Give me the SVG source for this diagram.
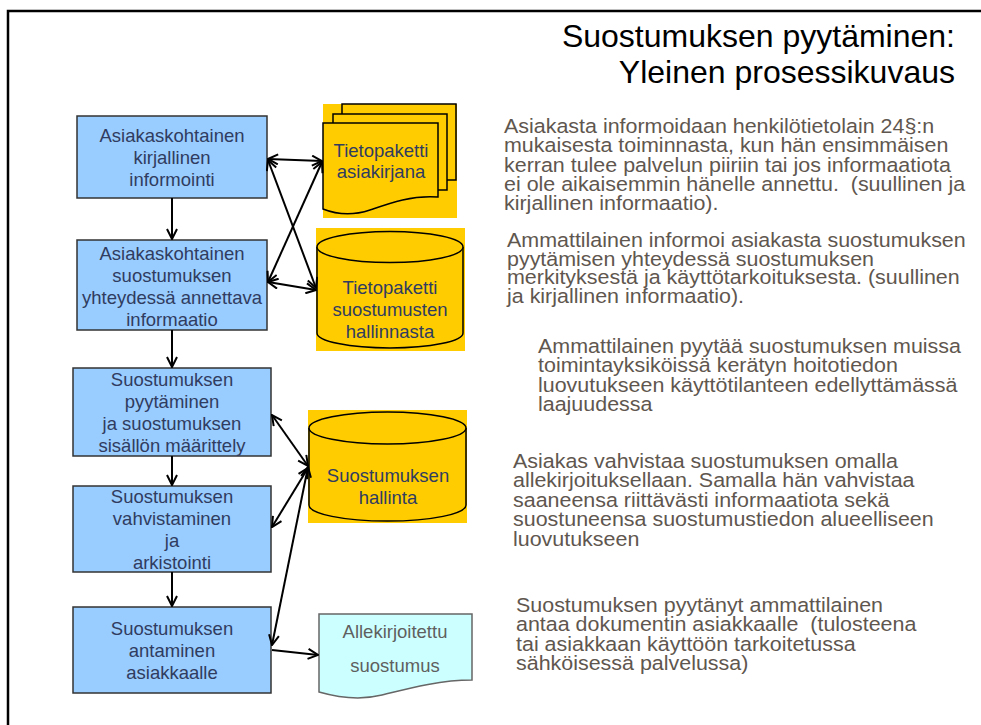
<svg xmlns="http://www.w3.org/2000/svg" width="981" height="725" viewBox="0 0 981 725">
<style>
.box{fill:#99CCFF;stroke:#333333;stroke-width:1.5}
.yel{fill:#FFCC00}
.shp{fill:#FFCC00;stroke:#000;stroke-width:1.5}
.bt{font-family:"Liberation Sans",Arial,sans-serif;font-size:18.5px;fill:#303C60;text-anchor:middle}
.gt{font-family:"Liberation Sans",Arial,sans-serif;font-size:18.5px;fill:#5F5F5F;text-anchor:middle}
.pt{font-family:"Liberation Sans",Arial,sans-serif;font-size:19.5px;fill:#5F574F;white-space:pre}
.tt{font-family:"Liberation Sans",Arial,sans-serif;font-size:32px;fill:#000;text-anchor:end}
.cn{fill:none;stroke:#000;stroke-width:2}
</style>
<defs>
<marker id="ah" viewBox="0 0 12 12" refX="11" refY="6" markerWidth="12" markerHeight="12" orient="auto-start-reverse" markerUnits="userSpaceOnUse">
<path d="M1,1 L11,6 L1,11" fill="none" stroke="#000" stroke-width="2"/>
</marker>
</defs>
<rect width="981" height="725" fill="#fff"/>
<path d="M8,725 V11 H981" fill="none" stroke="#000" stroke-width="2.5"/>
<g id="title">
<text class="tt" x="955" y="47">Suostumuksen pyytäminen:</text>
<text class="tt" x="955" y="83">Yleinen prosessikuvaus</text>
</g>
<g id="box1">
<rect class="box" x="77" y="116" width="190" height="82"/>
<text class="bt" x="172" y="142">Asiakaskohtainen</text>
<text class="bt" x="172" y="164">kirjallinen</text>
<text class="bt" x="172" y="186">informointi</text>
</g>
<g id="box2">
<rect class="box" x="77" y="240" width="190" height="90"/>
<text class="bt" x="172" y="260">Asiakaskohtainen</text>
<text class="bt" x="172" y="282">suostumuksen</text>
<text class="bt" x="172" y="304">yhteydessä annettava</text>
<text class="bt" x="172" y="326">informaatio</text>
</g>
<g id="box3">
<rect class="box" x="73" y="368" width="198" height="88"/>
<text class="bt" x="172" y="386">Suostumuksen</text>
<text class="bt" x="172" y="408">pyytäminen</text>
<text class="bt" x="172" y="430">ja suostumuksen</text>
<text class="bt" x="172" y="452">sisällön määrittely</text>
</g>
<g id="box4">
<rect class="box" x="73" y="486" width="198" height="86"/>
<text class="bt" x="172" y="503">Suostumuksen</text>
<text class="bt" x="172" y="525">vahvistaminen</text>
<text class="bt" x="172" y="547">ja</text>
<text class="bt" x="172" y="569">arkistointi</text>
</g>
<g id="box5">
<rect class="box" x="73" y="607" width="198" height="86"/>
<text class="bt" x="172" y="635">Suostumuksen</text>
<text class="bt" x="172" y="657">antaminen</text>
<text class="bt" x="172" y="679">asiakkaalle</text>
</g>
<g id="doc-asiakirjana">
<rect class="yel" x="323" y="104" width="134" height="114"/>
<path class="shp" d="M342,114 V104 H456 V180 H447"/>
<path class="shp" d="M333,123 V114 H447 V190 H438"/>
<path class="shp" d="M323,123 H438 V197 C412,195 390,203 370,210 C352,216 338,215 323,209 Z"/>
<text class="bt" x="381" y="157">Tietopaketti</text>
<text class="bt" x="381" y="178">asiakirjana</text>
</g>
<g id="cyl-hallinnasta">
<rect class="yel" x="316" y="228" width="149" height="123"/>
<path class="shp" d="M317,247 V333 A73,15 0 0 0 463,333 V247"/>
<ellipse class="shp" cx="390" cy="247" rx="73" ry="15.5"/>
<text class="bt" x="390" y="294">Tietopaketti</text>
<text class="bt" x="390" y="316">suostumusten</text>
<text class="bt" x="390" y="338">hallinnasta</text>
</g>
<g id="cyl-hallinta">
<rect class="yel" x="308" y="410" width="159" height="113"/>
<path class="shp" d="M309,428 V505 A78,16 0 0 0 466,505 V428"/>
<ellipse class="shp" cx="387.5" cy="428" rx="78.5" ry="16"/>
<text class="bt" x="388" y="482">Suostumuksen</text>
<text class="bt" x="388" y="504">hallinta</text>
</g>
<g id="doc-allekirjoitettu">
<path d="M319,614 H472 V680 C440,680 410,688 382,695 C362,700 340,698 319,692 Z" fill="#CCFFFF" stroke="#666666" stroke-width="1.5"/>
<text class="gt" x="395" y="638">Allekirjoitettu</text>
<text class="gt" x="395" y="672">suostumus</text>
</g>
<g id="connectors">
<line class="cn" x1="172" y1="198" x2="172" y2="239" marker-end="url(#ah)"/>
<line class="cn" x1="172" y1="330" x2="172" y2="367" marker-end="url(#ah)"/>
<line class="cn" x1="172" y1="456" x2="172" y2="485" marker-end="url(#ah)"/>
<line class="cn" x1="172" y1="572" x2="172" y2="606" marker-end="url(#ah)"/>
<line class="cn" x1="268" y1="159" x2="322" y2="161" marker-start="url(#ah)" marker-end="url(#ah)"/>
<line class="cn" x1="268" y1="160" x2="316" y2="288" marker-start="url(#ah)" marker-end="url(#ah)"/>
<line class="cn" x1="268" y1="282" x2="322" y2="162" marker-start="url(#ah)" marker-end="url(#ah)"/>
<line class="cn" x1="268" y1="282" x2="316" y2="290" marker-start="url(#ah)" marker-end="url(#ah)"/>
<line class="cn" x1="272" y1="415" x2="308" y2="466" marker-start="url(#ah)" marker-end="url(#ah)"/>
<line class="cn" x1="272" y1="527" x2="308" y2="468" marker-start="url(#ah)" marker-end="url(#ah)"/>
<line class="cn" x1="272" y1="645" x2="308" y2="467" marker-start="url(#ah)" marker-end="url(#ah)"/>
<line class="cn" x1="272" y1="650" x2="318" y2="655" marker-end="url(#ah)"/>
</g>
<g id="desc1" transform="translate(504,0) scale(1.1,1)">
<text class="pt" x="0" y="133">Asiakasta informoidaan henkilötietolain 24§:n</text>
<text class="pt" x="0" y="152.5">mukaisesta toiminnasta, kun hän ensimmäisen</text>
<text class="pt" x="0" y="172">kerran tulee palvelun piiriin tai jos informaatiota</text>
<text class="pt" x="0" y="191" xml:space="preserve">ei ole aikaisemmin hänelle annettu.  (suullinen ja</text>
<text class="pt" x="0" y="210">kirjallinen informaatio).</text>
</g>
<g id="desc2" transform="translate(507,0) scale(1.1,1)">
<text class="pt" x="0" y="247.5">Ammattilainen informoi asiakasta suostumuksen</text>
<text class="pt" x="0" y="266">pyytämisen yhteydessä suostumuksen</text>
<text class="pt" x="0" y="284.5">merkityksestä ja käyttötarkoituksesta. (suullinen</text>
<text class="pt" x="0" y="303">ja kirjallinen informaatio).</text>
</g>
<g id="desc3" transform="translate(538,0) scale(1.1,1)">
<text class="pt" x="0" y="353">Ammattilainen pyytää suostumuksen muissa</text>
<text class="pt" x="0" y="372.5">toimintayksiköissä kerätyn hoitotiedon</text>
<text class="pt" x="0" y="392">luovutukseen käyttötilanteen edellyttämässä</text>
<text class="pt" x="0" y="411.5">laajuudessa</text>
</g>
<g id="desc4" transform="translate(513,0) scale(1.1,1)">
<text class="pt" x="0" y="468">Asiakas vahvistaa suostumuksen omalla</text>
<text class="pt" x="0" y="487.5">allekirjoituksellaan. Samalla hän vahvistaa</text>
<text class="pt" x="0" y="507">saaneensa riittävästi informaatiota sekä</text>
<text class="pt" x="0" y="526.5">suostuneensa suostumustiedon alueelliseen</text>
<text class="pt" x="0" y="546">luovutukseen</text>
</g>
<g id="desc5" transform="translate(516,0) scale(1.1,1)">
<text class="pt" x="0" y="612">Suostumuksen pyytänyt ammattilainen</text>
<text class="pt" x="0" y="631.5" xml:space="preserve">antaa dokumentin asiakkaalle  (tulosteena</text>
<text class="pt" x="0" y="651">tai asiakkaan käyttöön tarkoitetussa</text>
<text class="pt" x="0" y="670.5">sähköisessä palvelussa)</text>
</g>
</svg>
